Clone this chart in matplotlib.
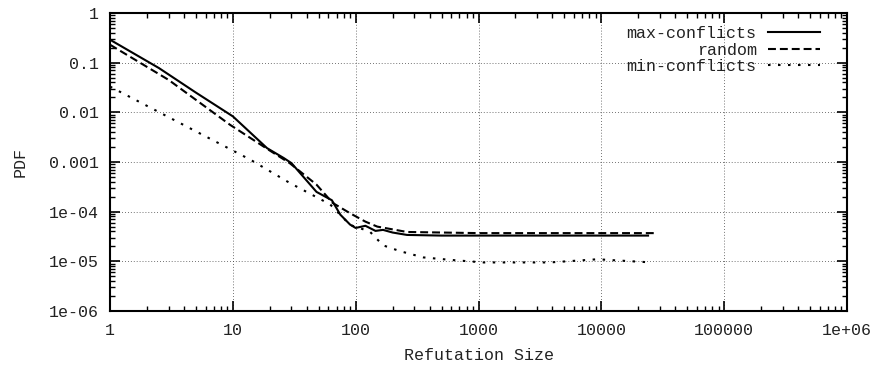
import matplotlib
matplotlib.use("Agg")
import matplotlib.pyplot as plt

plt.rcParams['font.family'] = ['Liberation Mono', 'DejaVu Sans Mono']

# ---- data ----
max_x = [1, 2.5, 5, 10, 19, 26, 30, 48, 64, 75, 90, 100, 120, 145, 167, 200, 262, 500, 1000, 5000, 10000, 24000]
max_y = [0.29, 0.078, 0.025, 0.0083, 0.0019, 0.0012, 0.00095, 2.5e-4, 1.7e-4, 8.7e-5, 5.5e-5, 4.7e-5, 5.2e-5,
         4.1e-5, 4.3e-5, 3.8e-5, 3.4e-5, 3.3e-5, 3.3e-5, 3.3e-5, 3.3e-5, 3.3e-5]

rnd_x = [1, 3, 9.5, 20, 29, 48, 65, 90, 120, 150, 262, 1000, 10000, 28000]
rnd_y = [0.23, 0.045, 0.0056, 0.0017, 0.00095, 3.5e-4, 1.5e-4, 9.3e-5, 6.3e-5, 5e-5, 3.9e-5, 3.7e-5, 3.7e-5, 3.7e-5]

min_x = [1, 3, 10, 14, 29, 62, 90, 130, 167, 230, 355, 590, 1100, 3800, 9300, 24000]
min_y = [0.033, 0.008, 0.0017, 0.0011, 3.8e-4, 1.4e-4, 5.4e-5, 4e-5, 2.1e-5, 1.6e-5, 1.2e-5, 1.07e-5,
         9.5e-6, 9.5e-6, 1.1e-5, 9.6e-6]

series_labels = ["max-conflicts", "random", "min-conflicts"]

x_ticks = [1, 10, 100, 1000, 10000, 100000, 1e6]
x_tick_labels = ["1", "10", "100", "1000", "10000", "100000", "1e+06"]
y_ticks = [1, 0.1, 0.01, 0.001, 1e-4, 1e-5, 1e-6]
y_tick_labels = ["1", "0.1", "0.01", "0.001", "1e-04", "1e-05", "1e-06"]

# ---- figure ----
FS = 12
fig = plt.figure(figsize=(8.74, 3.67), dpi=100)
ax = fig.add_axes([110 / 874, 1 - 311 / 367, 737 / 874, 298 / 367])
ax.set_xscale('log')
ax.set_yscale('log')
ax.set_xlim(1, 1e6)
ax.set_ylim(1e-6, 1)

lw = 1.5
ax.plot(max_x, max_y, color='black', lw=lw, linestyle='-', label=series_labels[0])
ax.plot(rnd_x, rnd_y, color='black', lw=lw, linestyle=(0, (3.8, 1.9)), label=series_labels[1])
ax.plot(min_x, min_y, color='black', lw=lw, linestyle=(0, (1.2, 3.6)), label=series_labels[2])

ax.set_xticks(x_ticks)
ax.set_xticklabels(x_tick_labels)
ax.set_yticks(y_ticks)
ax.set_yticklabels(y_tick_labels)
ax.xaxis.set_minor_locator(matplotlib.ticker.LogLocator(base=10, subs=range(2, 10), numticks=100))
ax.yaxis.set_minor_locator(matplotlib.ticker.LogLocator(base=10, subs=range(2, 10), numticks=100))
ax.xaxis.set_minor_formatter(matplotlib.ticker.NullFormatter())
ax.yaxis.set_minor_formatter(matplotlib.ticker.NullFormatter())

ax.tick_params(which='both', direction='in', top=True, right=True, labelsize=FS, color='black',
               labelcolor='#222222')
ax.tick_params(which='major', length=7, width=1.2)
ax.tick_params(which='minor', length=3.5, width=1.0)
ax.tick_params(axis='x', which='major', pad=8.5)
ax.tick_params(axis='y', which='major', pad=8)

for s in ax.spines.values():
    s.set_linewidth(1.5)
    s.set_color('black')

ax.grid(True, which='major', color='#444444', linestyle=(0, (1, 2.5)), linewidth=0.6)

ax.set_xlabel("Refutation Size", fontsize=FS, labelpad=7, color='#222222')
ax.set_ylabel("PDF", fontsize=FS, labelpad=15, color='#222222')

leg = ax.legend(loc='upper right', bbox_to_anchor=((820 - 110) / 737, (311 - 26) / 298),
                frameon=False, markerfirst=False, fontsize=FS, handlelength=3.1,
                handletextpad=0.7, labelspacing=0.1, borderpad=0, borderaxespad=0)
for t in leg.get_texts():
    t.set_color('#222222')

fig.savefig("out.png", dpi=100)
